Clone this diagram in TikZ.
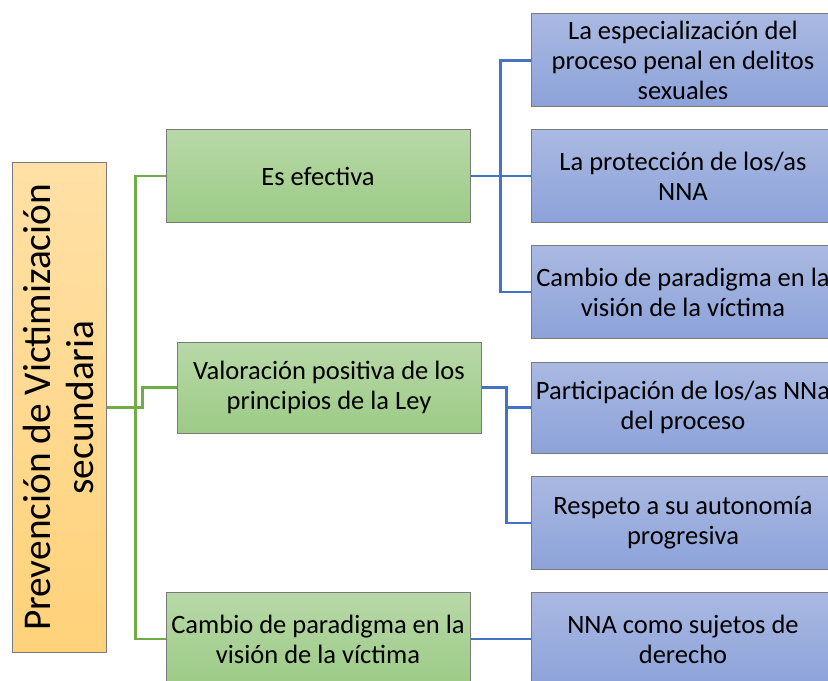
\documentclass[tikz,border=0pt]{standalone}
\usepackage{fontspec}
\setmainfont{Carlito}
\definecolor{rootT}{HTML}{FFE0A6}
\definecolor{rootB}{HTML}{FFD27A}
\definecolor{grnT}{HTML}{B8D8A8}
\definecolor{grnB}{HTML}{9CCB86}
\definecolor{bluT}{HTML}{AAB9E2}
\definecolor{bluB}{HTML}{8CA2D9}
\definecolor{gline}{HTML}{70AD47}
\definecolor{bline}{HTML}{4472C4}
\definecolor{edge}{HTML}{7A7A7A}
\begin{document}
\begin{tikzpicture}[x=1bp,y=-1bp,
  basebox/.style={draw=edge, line width=1bp, inner sep=0pt, align=center,
    font=\fontsize{26.6}{30}\selectfont},
  rootbox/.style={basebox, top color=rootT, bottom color=rootB, minimum width=93bp, minimum height=489bp},
  grnbox/.style={basebox, top color=grnT, bottom color=grnB, minimum height=93bp},
  blubox/.style={basebox, top color=bluT, bottom color=bluB, minimum width=304bp, minimum height=93bp},
  gconn/.style={draw=gline, line width=2.2bp},
  bconn/.style={draw=bline, line width=2.2bp}]
\useasboundingbox (0,0) rectangle (828,681);
\clip (0,0) rectangle (828,681);
\fill[white] (0,0) rectangle (828,681);
% root
\node[rootbox] (root) at (59.5,407.5) {};
\node[rotate=90, align=center, inner sep=0pt, font=\fontsize{39.5}{43}\selectfont] (roottext) at ([xshift=-1bp]root.center) {Prevención de Victimización\\secundaria};
% green
\node[grnbox, minimum width=304bp] (es) at (318,176) {Es efectiva};
\node[grnbox, minimum width=304bp, minimum height=91bp] (val) at (329,387.5) {Valoración positiva de los\\principios de la Ley};
\node[grnbox, minimum width=304bp] (cam) at (318,639) {Cambio de paradigma en la\\visión de la víctima};
% blue
\node[blubox] (b1) at (683,60.5) {La especialización del\\proceso penal en delitos\\sexuales};
\node[blubox] (b2) at (683,176) {La protección de los/as\\NNA};
\node[blubox] (b3) at (683,292) {Cambio de paradigma en la\\visión de la víctima};
\node[blubox, minimum height=91bp] (b4) at (683,407.5) {Participación de los/as NNa\\del proceso};
\node[blubox] (b5) at (683,523) {Respeto a su autonomía\\progresiva};
\node[blubox] (b6) at (683,639) {NNA como sujetos de\\derecho};
% green connectors
\draw[gconn] (es.west) -- ++(-30,0) |- (cam.west);
\draw[gconn] (root.east) -- ++(36,0) |- (val.west);
% blue connectors
\draw[bconn] (es.east) -- ++(30,0) coordinate (bj) |- (b1.west);
\draw[bconn] (bj) |- (b3.west);
\draw[bconn] (es.east) -- (b2.west);
\draw[bconn] (val.east) -- ++(25,0) coordinate (vj) |- (b4.west);
\draw[bconn] (vj) |- (b5.west);
\draw[bconn] (cam.east) -- (b6.west);
\end{tikzpicture}
\end{document}
